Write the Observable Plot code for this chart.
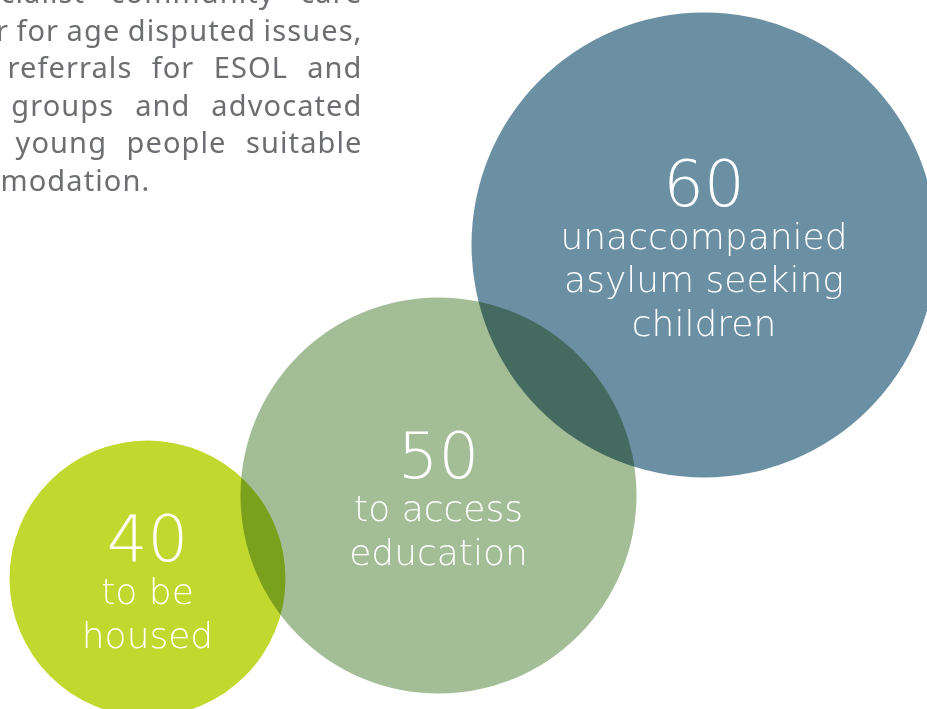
<!DOCTYPE html>
<html>
<head>
<meta charset="utf-8">
<script src="https://cdn.jsdelivr.net/npm/d3@7"></script>
<script src="https://cdn.jsdelivr.net/npm/@observablehq/plot@0.6"></script>
<style>
  html, body { margin: 0; padding: 0; background: #fff; overflow: hidden; }
  #chart svg { display: block; }
</style>
</head>
<body>
<div id="chart"></div>
<script>
// ---- data ----
const values = [40, 50, 60];
const labels = ["to be\nhoused", "to access\neducation", "unaccompanied\nasylum seeking\nchildren"];
const fills = ["#c1d82f", "#a3be96", "#6b8fa3"];
const paragraphLines = [
  "a specialist community care",
  "worker for age disputed issues,",
  "made referrals for ESOL and",
  "youth groups and advocated",
  "giving young people suitable",
  "accommodation."
];

const circles = values.map((v, i) => ({value: v, label: labels[i], fill: fills[i]}));

const W = 927, H = 709;
const paraSize = 29;
const paraSpacing = 1.1;
const ctx = document.createElement("canvas").getContext("2d");
ctx.font = `${paraSize}px 'Noto Sans'`;
const paraLeft = -(ctx.measureText("accom").width + 5 * paraSpacing);
const paraRight = 362;

const plot = Plot.plot({
  width: W,
  height: H,
  margin: 0,
  style: {background: "#fff", overflow: "hidden"},
  x: {type: "linear", domain: values, range: [147, 438, 703.5], axis: null},
  y: {type: "linear", domain: values, range: [578, 495, 244.5], axis: null},
  r: {type: "linear", domain: values, range: [138, 198, 232.5]},
  marks: [
    Plot.dot(circles, {
      x: "value", y: "value", r: "value",
      fill: "fill", stroke: null, fillOpacity: 1,
      mixBlendMode: "multiply"
    }),
    Plot.text(circles, {
      x: "value", y: "value",
      text: d => `${d.value}\n${d.label}`,
      fill: "white",
      fontSize: 36,
      fontWeight: 200,
      fontFamily: "'DejaVu Sans', sans-serif",
      lineAnchor: "middle",
      lineHeight: 1.2,
      dy: 12
    }),
    Plot.text([paragraphLines.join("\n")], {
      text: d => d,
      frameAnchor: "top-left",
      textAnchor: "start",
      lineAnchor: "top",
      lineHeight: 37.5 / paraSize,
      fontSize: paraSize,
      fontFamily: "'Noto Sans', sans-serif",
      fill: "#6d6e71",
      dx: paraLeft,
      dy: -24
    })
  ]
});

document.getElementById("chart").appendChild(plot);

const allTexts = Array.from(plot.querySelectorAll("text"));

// Enlarge the number (first line) in each circle label, keeping its baseline.
allTexts.forEach(t => {
  const first = t.querySelector("tspan");
  if (!first || !/^\d+$/.test(first.textContent)) return;
  const yEm = parseFloat(first.getAttribute("y"));
  first.setAttribute("y", `${yEm * 36}`);
  first.setAttribute("font-size", "64");
  first.style.fontSize = "64px";
});

// Justify the paragraph lines (all but the last).
allTexts.forEach(t => {
  const spans = Array.from(t.querySelectorAll("tspan"));
  if (!spans.length || spans[0].textContent !== paragraphLines[0]) return;
  t.style.letterSpacing = `${paraSpacing}px`;
  const target = paraRight - paraLeft;
  spans.forEach((s, i) => {
    if (i === spans.length - 1) return;
    const len = s.getComputedTextLength();
    const gaps = (s.textContent.match(/ /g) || []).length;
    if (gaps > 0) {
      const ws = (target - len) / gaps;
      s.setAttribute("word-spacing", ws);
      s.style.wordSpacing = `${ws}px`;
    }
  });
});
</script>
</body>
</html>
